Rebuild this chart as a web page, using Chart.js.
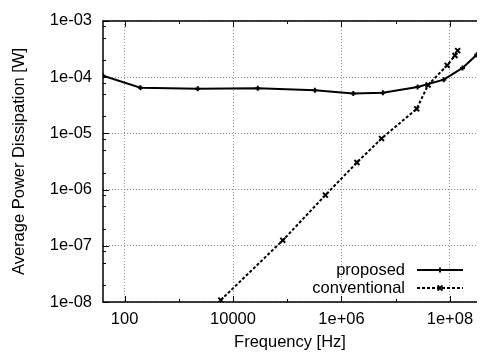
<!DOCTYPE html>
<html>
<head>
<meta charset="utf-8">
<script src="https://cdn.jsdelivr.net/npm/chart.js@4/dist/chart.umd.min.js"></script>
<style>
  html, body { margin:0; padding:0; background:#fff; }
  #wrap { width:483px; height:356px; position:relative; }
</style>
</head>
<body>
<div id="wrap"><canvas id="chart"></canvas></div>
<script>
// values (log-log)
const freqProposed  = [40, 196, 2240, 28600, 323000, 1650000, 5800000, 25400000, 77000000, 171000000, 312000000];
const powerProposed = [1.06e-4, 6.5e-5, 6.2e-5, 6.35e-5, 5.86e-5, 5.13e-5, 5.26e-5, 6.68e-5, 9.0e-5, 1.46e-4, 2.49e-4];

const freqConventional  = [5940, 82800, 506000, 1930000, 5480000, 24400000, 39600000, 89000000, 124000000, 139000000];
const powerConventional = [1.08e-8, 1.25e-7, 7.96e-7, 3.03e-6, 8.07e-6, 2.73e-5, 7.24e-5, 1.62e-4, 2.42e-4, 2.96e-4];

const xTickValues = [100, 1e4, 1e6, 1e8];
const xTickLabels = ["100", "10000", "1e+06", "1e+08"];
const xMinorTicks = [1e3, 1e5, 1e7];
const yTickValues = [1e-3, 1e-4, 1e-5, 1e-6, 1e-7, 1e-8];
const yTickLabels = ["1e-03", "1e-04", "1e-05", "1e-06", "1e-07", "1e-08"];
const yMinorSteps = [2, 5, 8];

const FONT = "'Liberation Sans', Arial, sans-serif";
const yMinorTicks = [];
yTickValues.slice(1).forEach(d => yMinorSteps.forEach(m => yMinorTicks.push(d * m)));

const toPts = (xs, ys) => xs.map((x, i) => ({ x, y: ys[i] }));
const isMajor = (list, v) => list.some(t => Math.abs(Math.log10(t) - Math.log10(v)) < 1e-6);

// gnuplot-like frame: inward ticks + border on left/top/bottom
const frame = {
  id: "frame",
  afterDatasetsDraw(chart) {
    const { ctx, chartArea: a, scales: { x, y } } = chart;
    ctx.save();
    ctx.strokeStyle = "#000";
    ctx.lineWidth = 1;
    ctx.beginPath();
    xTickValues.concat(xMinorTicks).forEach(v => {
      const px = Math.round(x.getPixelForValue(v)) + 0.5;
      const len = isMajor(xTickValues, v) ? 6 : 3;
      ctx.moveTo(px, a.bottom); ctx.lineTo(px, a.bottom - len);
      ctx.moveTo(px, a.top);    ctx.lineTo(px, a.top + len);
    });
    yTickValues.concat(yMinorTicks).forEach(v => {
      const py = Math.round(y.getPixelForValue(v)) + 0.5;
      const len = isMajor(yTickValues, v) ? 6 : 3;
      ctx.moveTo(a.left, py); ctx.lineTo(a.left + len, py);
    });
    ctx.stroke();
    ctx.lineWidth = 1.5;
    ctx.beginPath();
    ctx.moveTo(a.right, a.top);
    ctx.lineTo(a.left, a.top);
    ctx.lineTo(a.left, a.bottom);
    ctx.lineTo(a.right, a.bottom);
    ctx.stroke();
    ctx.restore();
  },
  afterDraw(chart) {
    // key in the lower right corner: label text, then a line sample
    const { ctx } = chart;
    const rows = [
      { ds: chart.data.datasets[0], y: 270 },
      { ds: chart.data.datasets[1], y: 288 },
    ];
    ctx.save();
    ctx.font = "16.5px " + FONT;
    ctx.fillStyle = "#000";
    ctx.textAlign = "right";
    ctx.textBaseline = "middle";
    rows.forEach(r => {
      ctx.fillText(r.ds.label, 405, r.y);
      ctx.strokeStyle = "#000";
      ctx.lineWidth = r.ds.borderWidth;
      ctx.setLineDash(r.ds.borderDash || []);
      ctx.beginPath();
      ctx.moveTo(417, r.y); ctx.lineTo(463, r.y);
      ctx.stroke();
      ctx.setLineDash([]);
      Chart.helpers.drawPoint(ctx, { pointStyle: r.ds.pointStyle, radius: r.ds.pointRadius, borderWidth: r.ds.pointBorderWidth }, 440, r.y);
    });
    ctx.restore();
  }
};

new Chart(document.getElementById("chart"), {
  type: "scatter",
  data: {
    datasets: [
      { label: "proposed", data: toPts(freqProposed, powerProposed), showLine: true,
        borderColor: "#000", backgroundColor: "#000", borderWidth: 2,
        pointStyle: "cross", pointRadius: 2.5, pointBorderWidth: 2, tension: 0 },
      { label: "conventional", data: toPts(freqConventional, powerConventional), showLine: true,
        borderColor: "#000", backgroundColor: "#000", borderWidth: 2, borderDash: [3, 2],
        pointStyle: "crossRot", pointRadius: 3.5, pointBorderWidth: 2, tension: 0 }
    ]
  },
  options: {
    responsive: true,
    maintainAspectRatio: false,
    animation: false,
    layout: { padding: { top: 15, right: 0, bottom: 0, left: 0 } },
    plugins: { legend: { display: false }, tooltip: { enabled: false } },
    scales: {
      x: {
        type: "logarithmic", min: 40, max: 3.16e8,
        afterBuildTicks: s => { s.ticks = xTickValues.concat(xMinorTicks).sort((a, b) => a - b).map(v => ({ value: v })); },
        afterFit: s => { s.height = 54; },
        ticks: {
          autoSkip: false, maxRotation: 0, padding: 8, color: "#000",
          font: { family: FONT, size: 16.5 },
          callback: v => { const i = xTickValues.findIndex(t => isMajor([t], v)); return i >= 0 ? xTickLabels[i] : ""; }
        },
        grid: { drawTicks: false, lineWidth: 1,
          color: c => (c.tick && isMajor(xTickValues, c.tick.value)) ? "#8c8c8c" : "rgba(0,0,0,0)" },
        border: { display: false, dash: [1, 2] },
        title: { display: true, text: "Frequency [Hz]", color: "#000",
          font: { family: FONT, size: 16.5 }, padding: { top: 0, bottom: 4 } }
      },
      y: {
        type: "logarithmic", min: 1e-8, max: 1e-3,
        afterBuildTicks: s => { s.ticks = yTickValues.concat(yMinorTicks).sort((a, b) => a - b).map(v => ({ value: v })); },
        afterFit: s => { s.width = 103; },
        ticks: {
          autoSkip: false, padding: 11, color: "#000",
          font: { family: FONT, size: 16.5 },
          callback: v => { const i = yTickValues.findIndex(t => isMajor([t], v)); return i >= 0 ? yTickLabels[i] : ""; }
        },
        grid: { drawTicks: false, lineWidth: 1,
          color: c => (c.tick && isMajor(yTickValues, c.tick.value)) ? "#8c8c8c" : "rgba(0,0,0,0)" },
        border: { display: false, dash: [1, 2] },
        title: { display: true, text: "Average Power Dissipation [W]", color: "#000",
          font: { family: FONT, size: 16.5 }, padding: { top: 10, bottom: 0 } }
      }
    }
  },
  plugins: [frame]
});
</script>
</body>
</html>
